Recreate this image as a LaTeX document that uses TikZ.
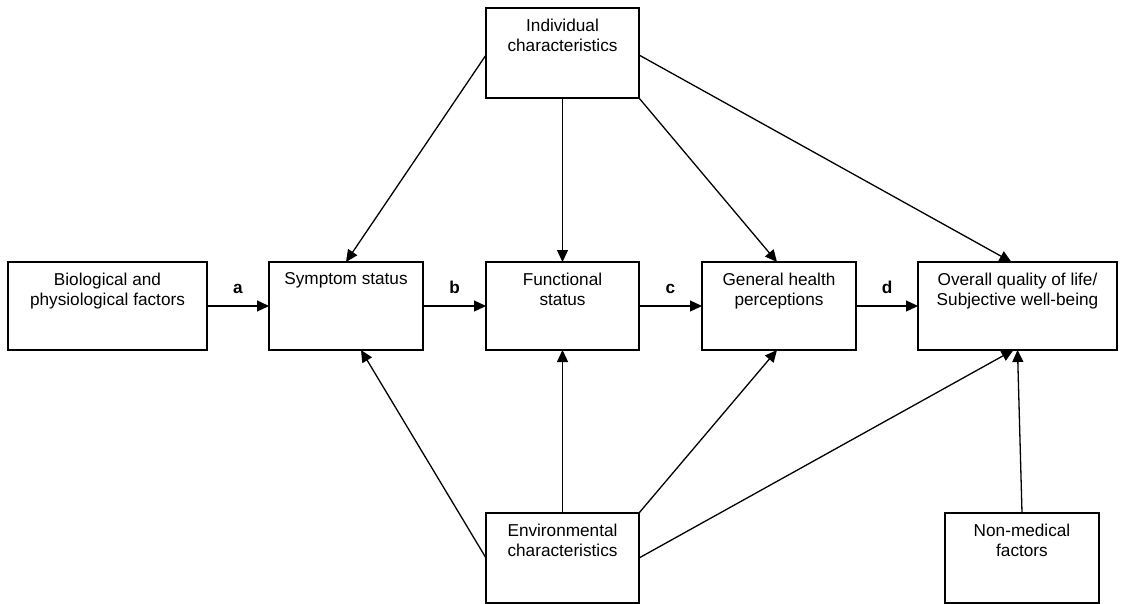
\documentclass[tikz,border=0pt]{standalone}
\usepackage{fontspec}
\setmainfont{Liberation Sans}
\usetikzlibrary{arrows.meta,calc}
\tikzset{
  box/.style={draw, line width=1.8pt, minimum height=88pt, inner sep=0pt, outer sep=0pt},
  boxtxt/.style={anchor=north, align=center, inner sep=0pt, font=\fontsize{17.2}{20}\selectfont},
  conn/.style={line width=1.3pt, -{Triangle[length=12pt,width=11pt]}},
  lab/.style={anchor=base, inner sep=0pt, font=\fontsize{17.2}{20}\selectfont\bfseries},
}
\begin{document}
\begin{tikzpicture}[x=1pt, y=-1pt]
\useasboundingbox (0,0) rectangle (1126,604);
% boxes
\node[box, minimum width=153pt, minimum height=90pt] (ind) at (562.5,53) {};
\node[box, minimum width=199pt] (bio) at (107.5,306) {};
\node[box, minimum width=154pt] (sym) at (346,306) {};
\node[box, minimum width=153pt] (fun) at (562.5,306) {};
\node[box, minimum width=154pt] (gen) at (779,306) {};
\node[box, minimum width=199pt] (ovr) at (1017.5,306) {};
\node[box, minimum width=153pt, minimum height=90pt] (env) at (562.5,558) {};
\node[box, minimum width=154pt, minimum height=90pt] (non) at (1022,558) {};
% texts
\node[boxtxt] (indt) at ([yshift=-10.5pt]ind.north) {Individual\\characteristics};
\node[boxtxt] (biot) at ([yshift=-10.5pt]bio.north) {Biological and\\physiological factors};
\node[boxtxt] (symt) at ([yshift=-10.5pt]sym.north) {Symptom status};
\node[boxtxt] (funt) at ([yshift=-10.5pt]fun.north) {Functional\\status};
\node[boxtxt] (gent) at ([yshift=-10.5pt]gen.north) {General health\\perceptions};
\node[boxtxt] (ovrt) at ([yshift=-10.5pt]ovr.north) {Overall quality of life/\\Subjective well-being};
\node[boxtxt] (envt) at ([yshift=-10.5pt]env.north) {Environmental\\characteristics};
\node[boxtxt] (nont) at ([yshift=-10.5pt]non.north) {Non-medical\\factors};
% main chain
\draw[conn] (bio.east) -- node[lab, midway, yshift=13pt] (la) {a} (sym.west);
\draw[conn] (sym.east) -- node[lab, midway, yshift=13pt] (lb) {b} (fun.west);
\draw[conn] (fun.east) -- node[lab, midway, yshift=13pt] (lc) {c} (gen.west);
\draw[conn] (gen.east) -- node[lab, midway, yshift=13pt] (ld) {d} (ovr.west);
% individual characteristics
\draw[conn] ([yshift=-2pt]ind.west) -- (sym.north);
\draw[conn] (ind.south) -- (fun.north);
\draw[conn] (ind.south east) -- ([xshift=-2pt]gen.north);
\draw[conn] ([yshift=-2pt]ind.east) -- ([xshift=-6pt]ovr.north);
% environmental characteristics
\draw[conn] (env.west) -- ([xshift=15pt]sym.south);
\draw[conn] (env.north) -- (fun.south);
\draw[conn] (env.north east) -- ([xshift=-2pt]gen.south);
\draw[conn] (env.east) -- ([xshift=-4pt]ovr.south);
% non-medical
\draw[conn] (non.north) -- (ovr.south);
\end{tikzpicture}
\end{document}
